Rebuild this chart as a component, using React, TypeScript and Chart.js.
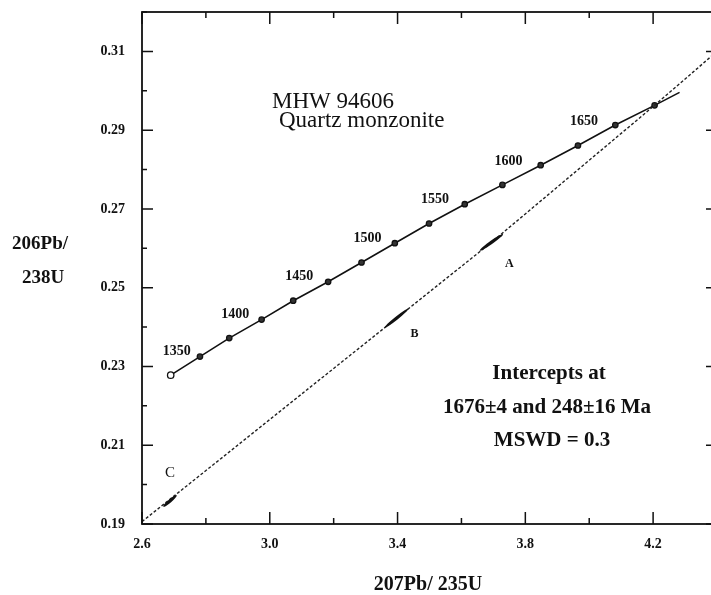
import React, { useEffect, useRef } from "react";
import { Chart, registerables } from "chart.js";

Chart.register(...registerables);

// Concordia ages (Ma) and their isotope ratios
const ages = [1350, 1375, 1400, 1425, 1450, 1475, 1500, 1525, 1550, 1575, 1600, 1625, 1650, 1675, 1700];
const concordiaX = [2.6898, 2.7814, 2.8731, 2.9744, 3.0733, 3.1827, 3.2872, 3.3914, 3.4986, 3.6103, 3.7282, 3.848, 3.9647, 4.0817, 4.2046];
const concordiaY = [0.2278, 0.2325, 0.2372, 0.2419, 0.2467, 0.2515, 0.2564, 0.2613, 0.2663, 0.2712, 0.2761, 0.2811, 0.2861, 0.2913, 0.2963];
// short continuation of the concordia past the last age marker
const concordiaTail = { x: 4.2828, y: 0.2996 };
const labelledAges = [1350, 1400, 1450, 1500, 1550, 1600, 1650];

// Discordia (regression line through the analyses)
const discordiaX = [2.6, 3.6938, 4.2046, 4.4];
const discordiaY = [0.1906, 0.2615, 0.2963, 0.31];

// Analyses: error ellipses given by the two ends of their long axis
const analysisNames = ["A", "B", "C"];
const analysisX1 = [3.6573, 3.3601, 2.6666];
const analysisY1 = [0.2594, 0.2399, 0.1944];
const analysisX2 = [3.7301, 3.433, 2.7085];
const analysisY2 = [0.2636, 0.2446, 0.1973];

// Axis ranges and tick steps
const xMin = 2.6, xMax = 4.4, xStep = 0.2;
const yMin = 0.19, yMax = 0.32, yStep = 0.01;

const SERIF = '"Liberation Serif", "Times New Roman", serif';

const decorPlugin = {
  id: "concordiaDecor",
  afterDraw(chart: any) {
    const { ctx, chartArea: a, scales } = chart;
    const xs = scales.x, ys = scales.y;
    ctx.save();
    ctx.strokeStyle = "#111";
    ctx.fillStyle = "#111";

    // frame
    ctx.lineWidth = 1.8;
    ctx.strokeRect(a.left, a.top, a.right - a.left, a.bottom - a.top);

    // inward ticks on all four sides
    ctx.lineWidth = 1.5;
    const major = 12, minor = 6;
    xs.ticks.forEach((t: any) => {
      const px = xs.getPixelForValue(t.value);
      const len = t.label ? major : minor;
      ctx.beginPath();
      ctx.moveTo(px, a.bottom); ctx.lineTo(px, a.bottom - len);
      ctx.moveTo(px, a.top); ctx.lineTo(px, a.top + len);
      ctx.stroke();
    });
    ys.ticks.forEach((t: any) => {
      const py = ys.getPixelForValue(t.value);
      const len = t.label ? 11 : 5;
      ctx.beginPath();
      ctx.moveTo(a.left, py); ctx.lineTo(a.left + len, py);
      ctx.moveTo(a.right, py); ctx.lineTo(a.right - len, py);
      ctx.stroke();
    });

    // error ellipses of the analyses
    const labelOffsets: Record<string, [number, number]> = { A: [18, 22], B: [18, 16], C: [0, -28] };
    analysisNames.forEach((name, i) => {
      const x1 = xs.getPixelForValue(analysisX1[i]), y1 = ys.getPixelForValue(analysisY1[i]);
      const x2 = xs.getPixelForValue(analysisX2[i]), y2 = ys.getPixelForValue(analysisY2[i]);
      const cx = (x1 + x2) / 2, cy = (y1 + y2) / 2;
      const half = Math.hypot(x2 - x1, y2 - y1) / 2;
      const ang = Math.atan2(y2 - y1, x2 - x1);
      ctx.beginPath();
      ctx.ellipse(cx, cy, half, 1.7, ang, 0, Math.PI * 2);
      ctx.fill();
      const [ox, oy] = labelOffsets[name];
      ctx.font = name === "C" ? `15px ${SERIF}` : `bold 12px ${SERIF}`;
      ctx.textAlign = "center";
      ctx.textBaseline = "middle";
      ctx.fillText(name, cx + ox, cy + oy);
    });

    // age labels on the concordia
    ctx.font = `bold 14px ${SERIF}`;
    ctx.textAlign = "center";
    ctx.textBaseline = "middle";
    labelledAges.forEach((age) => {
      const i = ages.indexOf(age);
      const px = xs.getPixelForValue(concordiaX[i]);
      const py = ys.getPixelForValue(concordiaY[i]);
      ctx.fillText(String(age), px + 6, py - 24);
    });

    // sample name
    ctx.textAlign = "left";
    ctx.font = `23px ${SERIF}`;
    ctx.fillText("MHW 94606", 272, 102);
    ctx.fillText("Quartz monzonite", 279, 121);

    // regression result
    ctx.textAlign = "center";
    ctx.font = `bold 21px ${SERIF}`;
    ctx.fillText("Intercepts at", 549, 374);
    ctx.fillText("1676\u00B14 and 248\u00B116 Ma", 547, 408);
    ctx.fillText("MSWD = 0.3", 552, 441);

    // axis titles
    ctx.font = `bold 19px ${SERIF}`;
    ctx.fillText("206Pb/", 40, 244);
    ctx.fillText("238U", 43, 278);
    ctx.font = `bold 20px ${SERIF}`;
    ctx.fillText("207Pb/ 235U", 428, 585);
    ctx.restore();
  },
};

export default function App() {
  const ref = useRef<HTMLCanvasElement>(null);

  useEffect(() => {
    if (!ref.current) return;
    const concordia = concordiaX.map((x, i) => ({ x, y: concordiaY[i] }));
    concordia.push({ x: concordiaTail.x, y: concordiaTail.y });
    const radii = concordia.map((_, i) => (i === concordia.length - 1 ? 0 : i === 0 ? 3.2 : 2.7));
    const fills = concordia.map((_, i) => (i === 0 ? "#ffffff" : "#333333"));
    const discordia = discordiaX.map((x, i) => ({ x, y: discordiaY[i] }));

    const tickFont = { family: SERIF, size: 14, weight: "bold" as const };

    const chart = new Chart(ref.current, {
      type: "scatter",
      data: {
        datasets: [
          {
            label: "Discordia",
            data: discordia,
            showLine: true,
            borderColor: "#222",
            borderWidth: 1.4,
            borderDash: [3, 2],
            pointRadius: 0,
          },
          {
            label: "Concordia",
            data: concordia,
            showLine: true,
            borderColor: "#111",
            borderWidth: 1.6,
            pointRadius: radii,
            pointBackgroundColor: fills,
            pointBorderColor: "#111",
            pointBorderWidth: 1.3,
          },
        ],
      },
      options: {
        responsive: false,
        animation: false,
        layout: { padding: { top: 12, right: 43, left: 0, bottom: 0 } },
        plugins: { legend: { display: false }, tooltip: { enabled: false } },
        scales: {
          x: {
            type: "linear",
            min: xMin,
            max: xMax,
            grid: { display: false, drawTicks: false },
            border: { display: false },
            ticks: {
              stepSize: xStep,
              padding: 12,
              color: "#111",
              font: tickFont,
              maxRotation: 0,
              autoSkip: false,
              callback: (v: any) => (Math.round(v * 10) % 4 === 2 ? Number(v).toFixed(1) : ""),
            },
            afterFit: (s: any) => {
              s.height = 71;
              s.paddingLeft = 0;
              s.paddingRight = 0;
            },
          },
          y: {
            type: "linear",
            min: yMin,
            max: yMax,
            grid: { display: false, drawTicks: false },
            border: { display: false },
            ticks: {
              stepSize: yStep,
              padding: 17,
              color: "#111",
              font: tickFont,
              autoSkip: false,
              callback: (v: any) => (Math.round(v * 100) % 2 === 1 ? Number(v).toFixed(2) : ""),
            },
            afterFit: (s: any) => {
              s.width = 142;
              s.paddingTop = 0;
              s.paddingBottom = 0;
            },
          },
        },
      },
      plugins: [decorPlugin],
    });
    return () => chart.destroy();
  }, []);

  return (
    <div style={{ position: "absolute", left: 0, top: 0, width: 711, height: 595, overflow: "hidden", background: "#fff" }}>
      <canvas ref={ref} width={760} height={595} style={{ display: "block", width: 760, height: 595 }} />
    </div>
  );
}
